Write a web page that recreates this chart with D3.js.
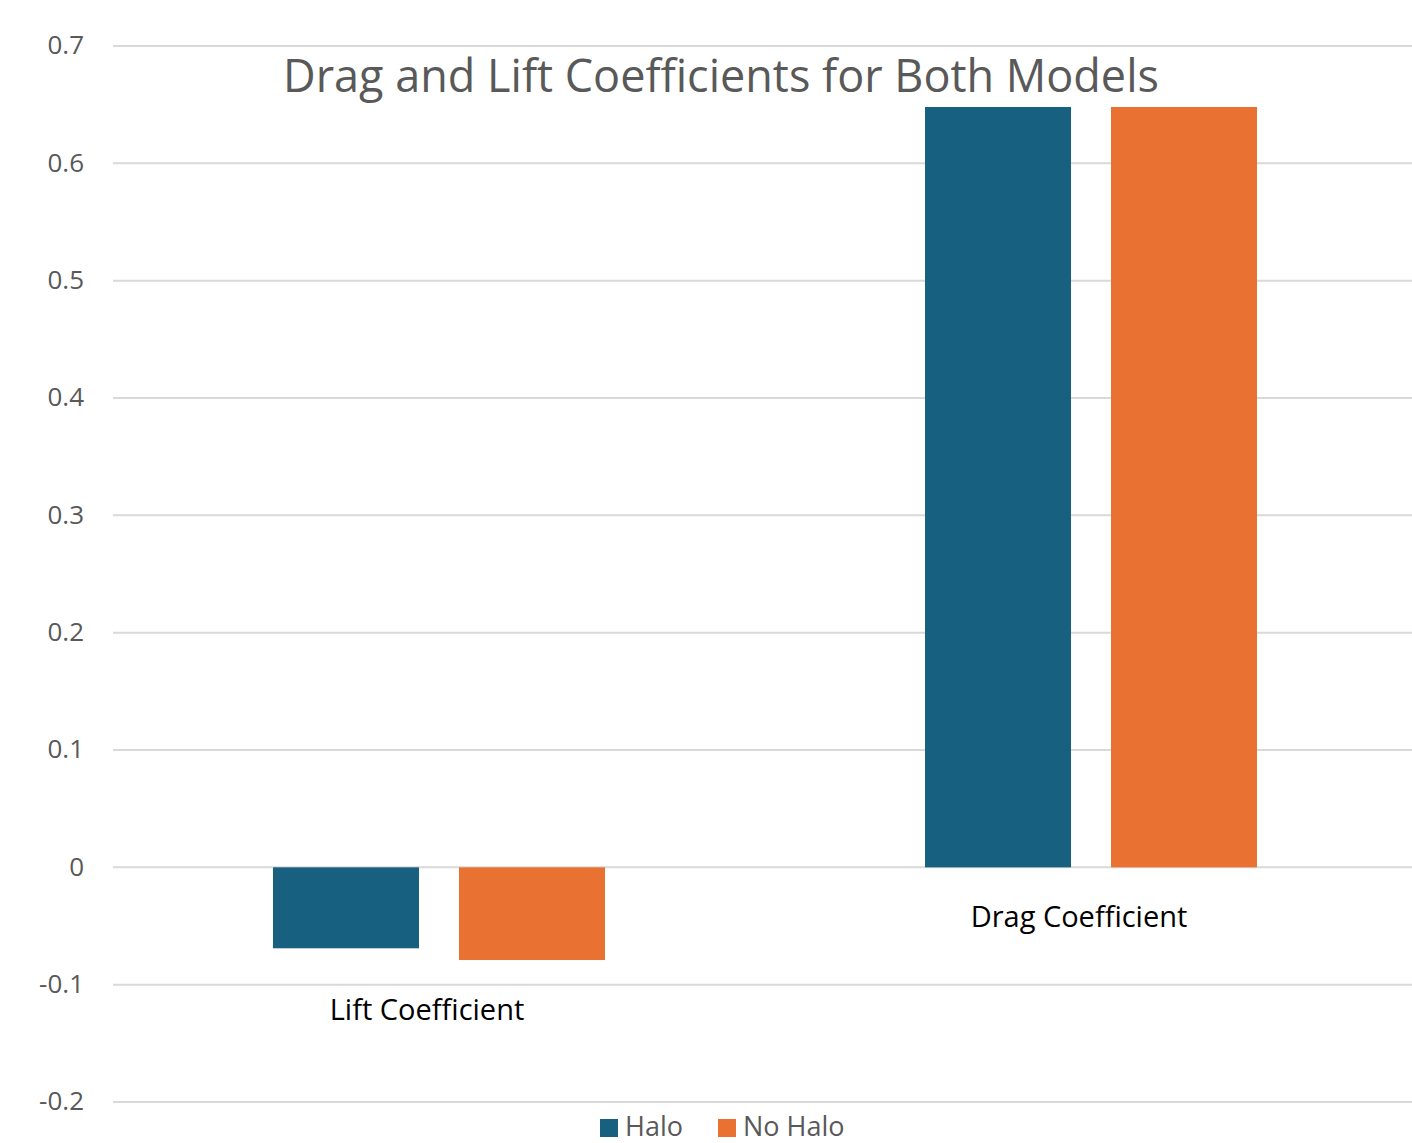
<!DOCTYPE html>
<html lang="en">
<head>
<meta charset="UTF-8">
<title>Drag and Lift Coefficients</title>
<script src="https://cdn.jsdelivr.net/npm/d3@7"></script>
<style>
  body { margin: 0; background: #fff; }
  text { font-family: "Open Sans", "Liberation Sans", sans-serif; }
</style>
</head>
<body>
<script>
var categories = ["Lift Coefficient", "Drag Coefficient"];
var seriesNames = ["Halo", "No Halo"];
var halo = [-0.069, 0.648];
var noHalo = [-0.079, 0.648];
var yTicks = [-0.2, -0.1, 0, 0.1, 0.2, 0.3, 0.4, 0.5, 0.6, 0.7];
var colors = ["#17607f", "#e97132"];

var width = 1412, height = 1143;

var svg = d3.select("body").append("svg")
  .attr("width", width)
  .attr("height", height);

var y = d3.scaleLinear().domain([-0.2, 0.7]).range([1102, 46]);
var x0 = d3.scaleBand().domain(categories).range([113, 1417]);
// bars inside the first band, other groups are shifted by translate
var x1 = d3.scaleBand().domain(seriesNames).range([273, 605]).paddingInner(0.215);

// gridlines
svg.append("g")
  .selectAll("line")
  .data(yTicks)
  .enter().append("line")
  .attr("x1", 113).attr("x2", width)
  .attr("y1", function(d) { return y(d); })
  .attr("y2", function(d) { return y(d); })
  .style("stroke", "#d9d9d9")
  .style("stroke-width", 2);

// y axis labels
var yAxis = d3.axisLeft(y).tickValues(yTicks).tickSize(0).tickPadding(0)
  .tickFormat(function(d) { return String(+d.toFixed(1)); });
var ga = svg.append("g").attr("transform", "translate(84,0)").call(yAxis);
ga.select(".domain").remove();
ga.selectAll("text")
  .style("font-size", "26px")
  .style("fill", "#595959")
  .attr("dy", "0.3em");

// bars
var rows = categories.map(function(c, i) {
  return { cat: c, vals: [halo[i], noHalo[i]] };
});

var groups = svg.selectAll(".grp")
  .data(rows)
  .enter().append("g")
  .attr("class", "grp")
  .attr("transform", function(d) { return "translate(" + (x0(d.cat) - x0(categories[0])) + ",0)"; });

groups.selectAll("rect")
  .data(function(d) { return d.vals.map(function(v, j) { return { s: seriesNames[j], v: v, j: j }; }); })
  .enter().append("rect")
  .attr("x", function(d) { return x1(d.s); })
  .attr("width", x1.bandwidth())
  .attr("y", function(d) { return y(Math.max(0, d.v)); })
  .attr("height", function(d) { return Math.abs(y(d.v) - y(0)); })
  .style("fill", function(d) { return colors[d.j]; });

// category labels (below lowest point of each group)
svg.selectAll(".cat")
  .data(rows)
  .enter().append("text")
  .attr("class", "cat")
  .attr("x", function(d) { return x0(d.cat) + x0.bandwidth() / 2 - 12; })
  .attr("y", function(d) { return y(Math.min(0, d3.min(d.vals))) + 60; })
  .attr("text-anchor", "middle")
  .style("font-size", "29px")
  .style("fill", "#000")
  .text(function(d) { return d.cat; });

// title
svg.append("text")
  .attr("x", 721).attr("y", 92)
  .attr("text-anchor", "middle")
  .style("font-size", "45px")
  .style("fill", "#595959")
  .text("Drag and Lift Coefficients for Both Models");

// legend
var legend = svg.append("g").attr("transform", "translate(600,1119)");
var lx = [0, 118];
seriesNames.forEach(function(s, i) {
  var g = legend.append("g").attr("transform", "translate(" + lx[i] + ",0)");
  g.append("rect").attr("width", 18).attr("height", 18).style("fill", colors[i]);
  g.append("text").attr("x", 25).attr("y", 17)
    .style("font-size", "27px").style("fill", "#595959").text(s);
});
</script>
</body>
</html>
